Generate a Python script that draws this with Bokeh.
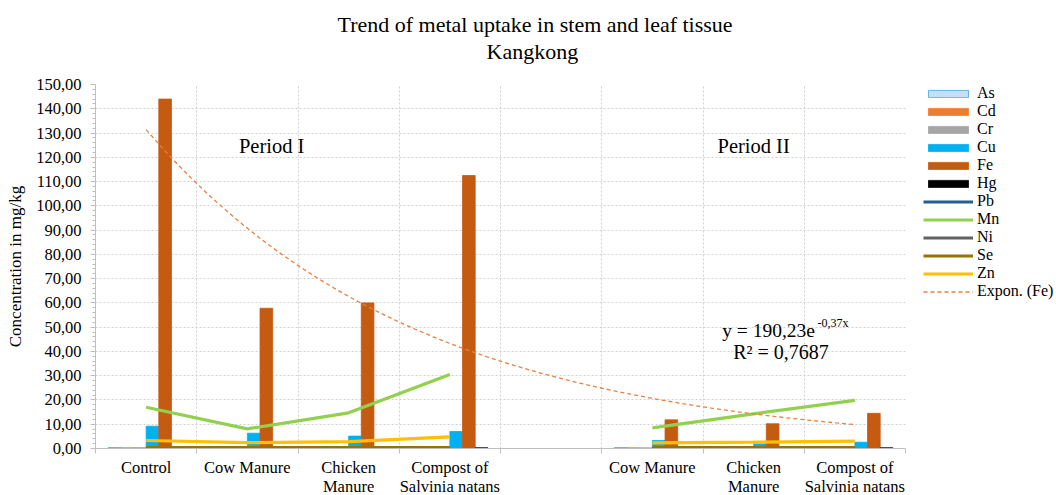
import numpy as np
from bokeh.plotting import figure
from bokeh.models import (Range1d, FixedTicker, Legend, LegendItem, LinearAxis,
                          Title, Label, ColumnDataSource)
from bokeh.transform import dodge
from bokeh.embed import file_html
from bokeh.resources import INLINE

nan = float("nan")

# ---- data ----
categories = ["Control", "Cow Manure", "Chicken\nManure", "Compost of\nSalvinia natans",
              "", "Cow Manure", "Chicken\nManure", "Compost of\nSalvinia natans"]
positions = [1, 2, 3, 4, 5, 6, 7, 8]
As = [0.4, 0.3, 0.3, 0.3, nan, 0.4, 0.3, 0.3]
Cd = [0.3, 0.2, 0.2, 0.2, nan, 0.3, 0.2, 0.2]
Cr = [0.4, 0.3, 0.3, 0.3, nan, 0.3, 0.3, 0.3]
Cu = [9.2, 6.3, 5.1, 7.0, nan, 3.3, 1.9, 2.6]
Fe = [144.0, 57.8, 60.0, 112.5, nan, 11.8, 10.2, 14.5]
Hg = [0.1, 0.1, 0.1, 0.3, nan, 0.1, 0.1, 0.3]
Pb = [0.05, 0.05, 0.05, 0.05, nan, 0.05, 0.05, 0.05]
Mn = [17.0, 8.1, 14.7, 30.5, nan, 8.5, 14.3, 19.8]
Ni = [0.1, 0.1, 0.1, 0.1, nan, 0.1, 0.1, 0.1]
Se = [0.35, 0.35, 0.35, 0.35, nan, 0.35, 0.35, 0.35]
Zn = [3.3, 2.4, 2.8, 4.8, nan, 2.3, 2.6, 3.0]
# exponential trendline of Fe as printed on the chart: y = 190,23 e^(-0,37x)
trend_a = 190.23
trend_b = -0.37
y_ticks = list(range(0, 151, 10))

FONT = "Liberation Serif"

src = ColumnDataSource(dict(x=positions, As=As, Cd=Cd, Cr=Cr, Cu=Cu, Fe=Fe, Hg=Hg,
                            Pb=Pb, Mn=Mn, Ni=Ni, Se=Se, Zn=Zn))

p = figure(frame_width=810, frame_height=364, x_range=Range1d(0.5, 8.5), y_range=Range1d(0, 150),
           output_backend="svg", toolbar_location=None,
           min_border_left=95, min_border_right=151, min_border_top=84, min_border_bottom=0)
p.outline_line_color = None
p.background_fill_color = "white"
p.border_fill_color = "white"

ax = p.below[0]   # category axis
ay = p.left[0]    # value axis

# ---- titles (p.title is outermost; first added 'above' panel sits next to the frame) ----
p.title.text = "Trend of metal uptake in stem and leaf tissue"
p.title.align = "left"
p.title.offset = 242
p.title.text_font = FONT
p.title.text_font_size = "22px"
p.title.text_font_style = "normal"
p.title.text_color = "#000000"
p.title.standoff = 0
# invisible spacer right above the plot area (one hidden tick, no drawn label)
spacer = LinearAxis(ticker=FixedTicker(ticks=[4.5]), axis_line_color=None,
                    major_tick_line_color=None, minor_tick_line_color=None,
                    major_tick_out=21, major_tick_in=0, minor_tick_out=0, minor_tick_in=0,
                    major_label_standoff=0, major_label_overrides={4.5: ""},
                    major_label_text_color=None, major_label_text_font_size="1px")
p.add_layout(spacer, "above")
sub_title = Title(text="Kangkong", align="left", offset=391, text_font=FONT,
                  text_font_size="22px", text_font_style="normal",
                  text_color="#000000", standoff=0)
p.add_layout(sub_title, "above")

# ---- bars ----
bar_w = 0.125
bar_specs = [("As", "#c5dff5", "#3fa9e0", -0.3125),
             ("Cd", "#ed7d31", "#ed7d31", -0.1875),
             ("Cr", "#a5a5a5", "#a5a5a5", -0.0625),
             ("Cu", "#00b0f0", "#00b0f0", 0.0625),
             ("Fe", "#c55a11", "#c55a11", 0.1875),
             ("Hg", "#000000", "#000000", 0.3125)]
renderers = {}
for name, fill, line, off in bar_specs:
    renderers[name] = p.vbar(x=dodge("x", off), top=name, width=bar_w, bottom=0, source=src,
                             fill_color=fill, line_color=line, line_width=0.8)

# ---- lines ----
line_specs = [("Pb", "#255e91"), ("Mn", "#92d050"), ("Ni", "#636363"),
              ("Se", "#997300"), ("Zn", "#ffc000")]
for name, col in line_specs:
    renderers[name] = p.line(x="x", y=name, source=src, line_color=col, line_width=3.2)

# ---- trend line ----
tx = np.linspace(positions[0], positions[-1], 80)
ty = trend_a * np.exp(trend_b * tx)
renderers["trend"] = p.line(tx, ty, line_color="#e8803f", line_width=1.3, line_dash="4 3")

# ---- axes ----
boundaries = [i + 0.5 for i in range(0, 9)]
label_pos = [x for x, c in zip(positions, categories) if c]
ax.ticker = FixedTicker(ticks=label_pos, minor_ticks=boundaries)
ax.major_label_overrides = {x: c for x, c in zip(positions, categories) if c}
ax.major_label_text_font = FONT
ax.major_label_text_font_size = "16.5px"
ax.major_label_text_color = "#000000"
ax.major_label_text_line_height = 1.05
ax.major_label_standoff = 4
ax.major_tick_out = 0
ax.major_tick_in = 0
ax.major_tick_line_color = None
ax.minor_tick_out = 5
ax.minor_tick_in = 0
ax.minor_tick_line_color = "#bfbfbf"
ax.axis_line_color = "#bfbfbf"

ay.ticker = FixedTicker(ticks=y_ticks, minor_ticks=list(range(0, 151, 2)))
ay.major_label_overrides = {v: f"{v},00" for v in y_ticks}
ay.major_label_text_font = FONT
ay.major_label_text_font_size = "16.5px"
ay.major_label_text_color = "#000000"
ay.major_tick_out = 5
ay.major_tick_in = 0
ay.minor_tick_out = 3
ay.minor_tick_in = 0
ay.major_label_standoff = 9
ay.axis_line_color = "#bfbfbf"
ay.major_tick_line_color = "#bfbfbf"
ay.minor_tick_line_color = "#bfbfbf"
ay.axis_label = "Concentration in mg/kg"
ay.axis_label_text_font = FONT
ay.axis_label_text_font_size = "17px"
ay.axis_label_text_font_style = "normal"
ay.axis_label_text_color = "#000000"
ay.axis_label_standoff = 8

# ---- grids ----
p.xgrid.ticker = FixedTicker(ticks=boundaries)
p.ygrid.ticker = FixedTicker(ticks=y_ticks)
for g in (p.xgrid, p.ygrid):
    g.grid_line_color = "#d0d0d0"
    g.grid_line_dash = "2 2"
    g.grid_line_width = 1

# ---- annotations ----
period_labels = [("Period I", 2.24), ("Period II", 7.0)]
for txt, xp in period_labels:
    p.add_layout(Label(x=xp, y=124.8, text=txt, text_align="center", text_baseline="middle",
                       text_font=FONT, text_font_size="20.5px", text_color="#000000"))
p.add_layout(Label(x=6.69, y=48.6, text="y = 190,23e", text_align="left", text_baseline="middle",
                   text_font=FONT, text_font_size="19.5px", text_color="#000000"))
p.add_layout(Label(x=7.63, y=51.6, text="-0,37x", text_align="left", text_baseline="middle",
                   text_font=FONT, text_font_size="12px", text_color="#000000"))
p.add_layout(Label(x=7.27, y=39.6, text="R² = 0,7687", text_align="center", text_baseline="middle",
                   text_font=FONT, text_font_size="20px", text_color="#000000"))

# ---- legend ----
order = ["As", "Cd", "Cr", "Cu", "Fe", "Hg", "Pb", "Mn", "Ni", "Se", "Zn"]
items = [LegendItem(label=n, renderers=[renderers[n]]) for n in order]
items.append(LegendItem(label="Expon. (Fe)", renderers=[renderers["trend"]]))
legend = Legend(items=items, location=(18, 148), margin=0, padding=0, spacing=0,
                glyph_width=50, glyph_height=9, label_height=18, label_standoff=4,
                label_text_font=FONT, label_text_font_size="16px", label_text_color="#000000",
                border_line_color=None, background_fill_alpha=0)
p.add_layout(legend, "right")

open("out.html", "w").write(file_html(p, INLINE))
